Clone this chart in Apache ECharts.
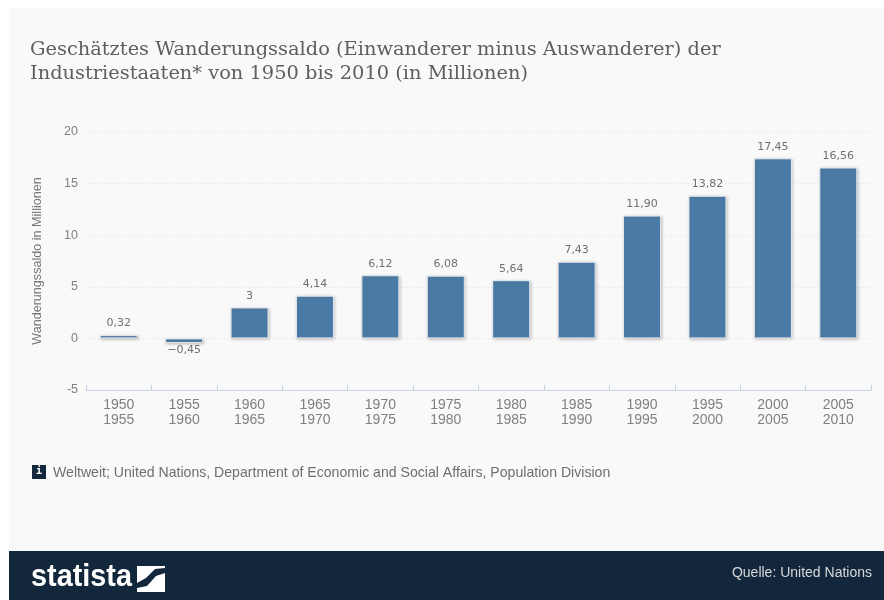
<!DOCTYPE html>
<html>
<head>
<meta charset="utf-8">
<title>Wanderungssaldo</title>
<style>
html,body{margin:0;padding:0;background:#fff}
#main{width:884px;height:600px}
</style>
<script src="https://cdn.jsdelivr.net/npm/echarts@6/dist/echarts.min.js"></script>
</head>
<body>
<div id="main"></div>
<script>
// Werte
var categories = ['1950\n1955','1955\n1960','1960\n1965','1965\n1970','1970\n1975','1975\n1980','1980\n1985','1985\n1990','1990\n1995','1995\n2000','2000\n2005','2005\n2010'];
var values = [0.32,-0.45,3,4.14,6.12,6.08,5.64,7.43,11.90,13.82,17.45,16.56];
var valueLabels = ['0,32','\u22120,45','3','4,14','6,12','6,08','5,64','7,43','11,90','13,82','17,45','16,56'];
var titleLines = 'Geschätztes Wanderungssaldo (Einwanderer minus Auswanderer) der\nIndustriestaaten* von 1950 bis 2010 (in Millionen)';
var yName = 'Wanderungssaldo in Millionen';
var sourceNote = 'Weltweit; United Nations, Department of Economic and Social Affairs, Population Division';
var sourceRight = 'Quelle: United Nations';

var barData = [];
for (var i = 0; i < values.length; i++) {
	barData.push({
		value: values[i],
		label: {
			show: true,
			position: values[i] < 0 ? 'bottom' : 'top',
			distance: values[i] < 0 ? 2 : 6,
			formatter: valueLabels[i]
		}
	});
}

var chart = echarts.init(document.getElementById('main'), null, {renderer: 'canvas'});
chart.setOption({
	animation: false,
	backgroundColor: '#ffffff',
	grid: {left: 86, right: 13, top: 132, bottom: 210, containLabel: false},
	xAxis: {
		type: 'category',
		data: categories,
		axisLine: {onZero: false, lineStyle: {color: '#c6d4e2', width: 1}},
		axisTick: {show: true, inside: true, length: 5, alignWithLabel: false, lineStyle: {color: '#c6d4e2'}},
		axisLabel: {color: '#808080', fontFamily: 'Liberation Sans', fontSize: 14, lineHeight: 15, margin: 8, interval: 0}
	},
	yAxis: {
		type: 'value',
		min: -5,
		max: 20,
		interval: 5,
		name: yName,
		nameLocation: 'middle',
		nameGap: 42,
		nameTextStyle: {color: '#777777', fontFamily: 'Liberation Sans', fontSize: 12.6},
		axisLine: {show: false},
		axisTick: {show: false},
		axisLabel: {color: '#808080', fontFamily: 'Liberation Sans', fontSize: 12.5, margin: 8},
		splitLine: {lineStyle: {color: '#e2e2e2', type: [1, 2], width: 1}}
	},
	series: [{
		type: 'bar',
		data: barData,
		barWidth: 38,
		itemStyle: {
			color: '#4a7ba7',
			borderColor: '#e4e9ee',
			borderWidth: 1,
			shadowColor: 'rgba(90,90,90,0.35)',
			shadowBlur: 3,
			shadowOffsetX: 1,
			shadowOffsetY: 1
		},
		label: {color: '#707070', fontFamily: 'DejaVu Sans', fontSize: 11}
	}],
	graphic: [
		{type: 'rect', z: -10, silent: true, shape: {x: 9, y: 8, width: 875, height: 543}, style: {fill: '#f9f9f9'}},
		{type: 'rect', z: -9, silent: true, shape: {x: 9, y: 551, width: 875, height: 49}, style: {fill: '#12263c'}},
		{type: 'text', z: 5, left: 30, top: 38, style: {text: titleLines, fill: '#5e5e5e', font: '19.4px "DejaVu Serif"', lineHeight: 24}},
		{type: 'rect', z: 5, shape: {x: 32, y: 465, width: 14, height: 14}, style: {fill: '#12263c'}},
		{type: 'text', z: 6, left: 36, top: 466, style: {text: 'i', fill: '#ffffff', font: 'bold 10px "DejaVu Sans Mono"'}},
		{type: 'text', z: 5, left: 53, top: 466, style: {text: sourceNote, fill: '#6f6f6f', font: '14.1px "Liberation Sans"'}},
		{type: 'text', z: 5, x: 31, y: 562, scaleX: 0.93, style: {text: 'statista', fill: '#ffffff', font: 'bold 31px "Liberation Sans"'}},
		{type: 'polygon', z: 5, shape: {points: [[137,566],[165,566],[165,568],[155,569],[146,578],[137,583]]}, style: {fill: '#ffffff'}},
		{type: 'polygon', z: 5, shape: {points: [[165,573],[165,592],[137,592],[137,588],[147,586],[156,576]]}, style: {fill: '#ffffff'}},
		{type: 'text', z: 5, right: 12, top: 566, style: {text: sourceRight, fill: '#d8d8d8', font: '14px "Liberation Sans"'}}
	]
});
</script>
</body>
</html>
